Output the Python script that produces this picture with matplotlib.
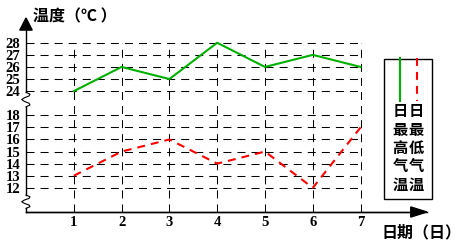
import numpy as np
import matplotlib.pyplot as plt
from matplotlib.patches import Rectangle, Polygon

# days and daily temperatures
days = [1, 2, 3, 4, 5, 6, 7]
high_temp = [24, 26, 25, 28, 26, 27, 26]
low_temp = [13, 15, 16, 14, 15, 12, 17]

low_ticks = [12, 13, 14, 15, 16, 17, 18]
high_ticks = [24, 25, 26, 27, 28]
BREAK_SHIFT = 4  # broken axis: 24..28 drawn at 20..24

W, H = 467, 246
CJK = ['Noto Sans CJK SC', 'DejaVu Sans']
NUM = 'Liberation Serif'

fig = plt.figure(figsize=(W / 100, H / 100), dpi=100)
fig.patch.set_facecolor('white')

# axes box in pixels: left at y-axis, bottom at x-axis, right/top at arrow tips
x0, xr, yb, yt = 26, 427, 212, 18
ax = fig.add_axes([x0 / W, (H - yb) / H, (xr - x0) / W, (yb - yt) / H])
ax.set_xlim(0, (xr - x0) / 47.8)
ax.set_ylim(10, 12 + (188 - yt) / 12.1)

for s in ['top', 'right', 'left']:
    ax.spines[s].set_visible(False)
ax.spines['bottom'].set_linewidth(1)

ax.set_xticks(days)
ax.set_xticklabels([str(d) for d in days], fontfamily=NUM, fontweight='bold', fontsize=10.5)
yt_pos = low_ticks + [v - BREAK_SHIFT for v in high_ticks]
ax.set_yticks(yt_pos)
ax.set_yticklabels([str(v) for v in low_ticks + high_ticks],
                   fontfamily=NUM, fontweight='bold', fontsize=10.5)
ax.tick_params(length=0)
ax.tick_params(axis='y', pad=4)
ax.tick_params(axis='x', pad=3)

# dashed grid
grid_kw = dict(color='black', lw=0.75, linestyle=(0, (7.7, 5.8)))
for v in yt_pos:
    ax.plot([0, 7.05], [v, v], **grid_kw)
for d in days:
    ax.plot([d, d], [10, high_ticks[-1] - BREAK_SHIFT], **grid_kw)

# broken y axis with squiggles
def squiggle(ylo, yhi):
    t = np.linspace(0, 1, 9)
    xs = 0.09 * np.sin(t * 2 * np.pi * 1.5) * np.where((t > 0.1) & (t < 0.9), 1, 0.3)
    return xs, ylo + (yhi - ylo) * t

ytop = ax.get_ylim()[1]
segs = [(10, 10.3), (11.4, 18.7), (19.9, ytop - 0.9)]
for a, b in segs:
    ax.plot([0, 0], [a, b], color='black', lw=1, clip_on=False)
for a, b in [(10.3, 11.4), (18.7, 19.9)]:
    xs, ys = squiggle(a, b)
    ax.plot(xs, ys, color='black', lw=0.8, clip_on=False)

# arrows
ax.add_patch(Polygon([[0, ytop], [-0.13, ytop - 1.0], [0.13, ytop - 1.0]],
                     closed=True, color='black', clip_on=False))
xmax = ax.get_xlim()[1]
ax.add_patch(Polygon([[xmax, 10], [xmax - 0.34, 10.42], [xmax - 0.34, 9.58]],
                     closed=True, color='black', clip_on=False))
ax.plot([0, xmax - 0.3], [10, 10], color='black', lw=1, clip_on=False)

# temperature lines
ax.plot(days, [v - BREAK_SHIFT for v in high_temp], color='#00b000', lw=1.5)
ax.plot(days, low_temp, color='#ff0000', lw=1.5, linestyle=(0, (3.8, 2.9)))

# axis titles
fig.text(33 / W, 1 - 16 / H, '温度（℃ ）', family=CJK, fontweight='bold',
         fontsize=11.5, va='center', ha='left')
fig.text(382 / W, 1 - 232 / H, '日期（日）', family=CJK, fontweight='bold',
         fontsize=11.5, va='center', ha='left')

# legend box
fig.patches.append(Rectangle((384 / W, 1 - 199 / H), 48 / W, 140 / H,
                             transform=fig.transFigure, fill=False,
                             edgecolor='black', lw=1))
fig.lines.append(plt.Line2D([400 / W, 400 / W], [1 - 58 / H, 1 - 101 / H],
                            transform=fig.transFigure, color='#00b000', lw=1.5))
fig.lines.append(plt.Line2D([417 / W, 417 / W], [1 - 58 / H, 1 - 101 / H],
                            transform=fig.transFigure, color='#ff0000', lw=1.5,
                            linestyle=(0, (3.8, 2.9))))
for col_x, label in [(400, '日最高气温'), (416, '日最低气温')]:
    for i, ch in enumerate(label):
        fig.text(col_x / W, 1 - (111 + 18.5 * i) / H, ch, family=CJK,
                 fontweight='bold', fontsize=11, ha='center', va='center')

fig.savefig('out.png', dpi=100)
